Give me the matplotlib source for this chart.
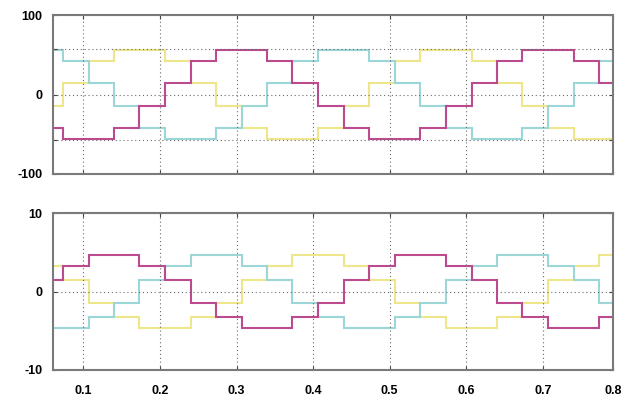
import matplotlib.pyplot as plt

# DATA -------------

# x range of both panels
x_start = 0.0608
x_end = 0.7915

# times where the stepped signals change level
step_times = [0.073, 0.107, 0.140, 0.173, 0.207, 0.240, 0.273, 0.307,
              0.340, 0.373, 0.407, 0.440, 0.473, 0.507, 0.540, 0.573,
              0.607, 0.640, 0.673, 0.707, 0.740, 0.773]

# top panel levels, one per interval
top_magenta = [-42, -56, -56, -42, -15, 15, 42, 56, 56, 42, 15, -15,
               -42, -56, -56, -42, -15, 15, 42, 56, 56, 42, 15]
top_cyan = [56, 42, 15, -15, -42, -56, -56, -42, -15, 15, 42, 56,
            56, 42, 15, -15, -42, -56, -56, -42, -15, 15, 42]
top_yellow = [-15, 15, 42, 56, 56, 42, 15, -15, -42, -56, -56, -42,
              -15, 15, 42, 56, 56, 42, 15, -15, -42, -56, -56]

# bottom panel levels
bot_magenta = [1.5, 3.3, 4.7, 4.7, 3.3, 1.5, -1.5, -3.3, -4.7, -4.7, -3.3, -1.5,
               1.5, 3.3, 4.7, 4.7, 3.3, 1.5, -1.5, -3.3, -4.7, -4.7, -3.3]
bot_cyan = [-4.7, -4.7, -3.3, -1.5, 1.5, 3.3, 4.7, 4.7, 3.3, 1.5, -1.5, -3.3,
            -4.7, -4.7, -3.3, -1.5, 1.5, 3.3, 4.7, 4.7, 3.3, 1.5, -1.5]
bot_yellow = [3.3, 1.5, -1.5, -3.3, -4.7, -4.7, -3.3, -1.5, 1.5, 3.3, 4.7, 4.7,
              3.3, 1.5, -1.5, -3.3, -4.7, -4.7, -3.3, -1.5, 1.5, 3.3, 4.7]

x_ticks = [0.1, 0.2, 0.3, 0.4, 0.5, 0.6, 0.7, x_end]
x_tick_labels = ["0.1", "0.2", "0.3", "0.4", "0.5", "0.6", "0.7", "0.8"]

top_yticks = [-100, -57, 0, 57, 100]
top_ylabels = ["-100", "", "0", "", "100"]
bot_yticks = [-10, 0, 10]
bot_ylabels = ["-10", "0", "10"]

# COLORS -----------
magenta = "#bb4a8f"
cyan = "#9dd6d6"
yellow = "#eee68a"
frame = "#7a7a7a"

font = {"family": "Liberation Sans", "weight": "bold", "size": 9}


def draw_steps(ax, levels, color):
    edges = [x_start] + step_times + [x_end]
    ax.stairs(levels, edges, color=color, linewidth=1.5, baseline=None)


def decorate(ax, yticks, ylabels, ylim, show_x):
    ax.set_xlim(x_start, x_end)
    ax.set_ylim(*ylim)
    ax.set_xticks(x_ticks)
    ax.set_yticks(yticks)
    ax.set_yticklabels(ylabels, fontdict=font)
    if show_x:
        ax.set_xticklabels(x_tick_labels, fontdict=font)
    else:
        ax.set_xticklabels([])
    ax.tick_params(direction="in", top=True, right=True, length=3,
                   color="#444444", pad=8)
    ax.tick_params(axis="x", pad=11)
    ax.grid(True, linestyle=(0, (1, 2.5)), color="#6a6a6a", linewidth=0.8)
    for s in ax.spines.values():
        s.set_color(frame)
        s.set_linewidth(1.5)


def main():
    fig = plt.figure(figsize=(6.31, 3.98), dpi=100)
    ax1 = fig.add_axes([0.0845, 0.563, 0.887, 0.399])
    ax2 = fig.add_axes([0.0845, 0.0704, 0.887, 0.394])

    for levels, c in [(top_yellow, yellow), (top_cyan, cyan), (top_magenta, magenta)]:
        draw_steps(ax1, levels, c)
    for levels, c in [(bot_yellow, yellow), (bot_cyan, cyan), (bot_magenta, magenta)]:
        draw_steps(ax2, levels, c)

    decorate(ax1, top_yticks, top_ylabels, (-100, 100), False)
    decorate(ax2, bot_yticks, bot_ylabels, (-10, 10), True)

    fig.savefig("out.png", dpi=100)


if __name__ == "__main__":
    main()
